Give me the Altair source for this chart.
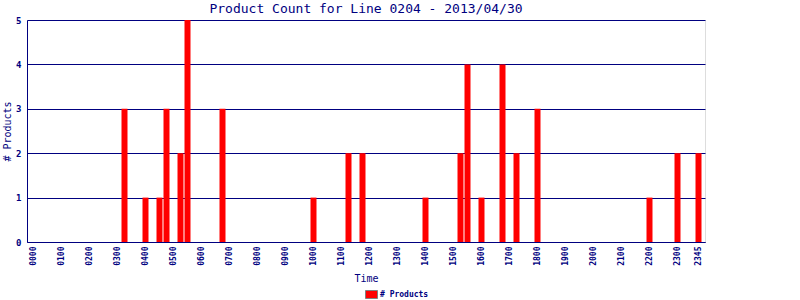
import altair as alt
import pandas as pd

# Non-empty 15-minute slots and their product counts
times = ["0315", "0400", "0430", "0445", "0515", "0530", "0645", "1000",
         "1115", "1145", "1400", "1515", "1530", "1600", "1645", "1715",
         "1800", "2200", "2300", "2345"]
counts = [3, 1, 1, 3, 2, 5, 3, 1, 2, 2, 1, 2, 4, 1, 4, 2, 3, 1, 2, 2]

hours = ["%02d" % h for h in range(24)]
quarters = ["00", "15", "30", "45"]
slots = [h + q for h in hours for q in quarters]
tick_labels = [h + "00" for h in hours] + ["2345"]

series_name = "# Products"
title_text = "Product Count for Line 0204 - 2013/04/30"

df = pd.DataFrame({"time": times, "count": counts, "series": [series_name] * len(times)})

NAVY = "#000080"
FONT = "DejaVu Sans Mono"

chart = alt.Chart(df).mark_bar(color="red").encode(
    x=alt.X("time:O",
            scale=alt.Scale(domain=slots, paddingInner=1/7, paddingOuter=0.5),
            axis=alt.Axis(values=tick_labels, labelAngle=270, ticks=False,
                          labelFont=FONT, labelFontSize=8, labelFontWeight="bold",
                          labelColor=NAVY, labelPadding=4, domainColor=NAVY,
                          title="Time", titleFont=FONT, titleFontSize=10,
                          titleFontWeight="normal", titleColor=NAVY, titlePadding=8)),
    y=alt.Y("count:Q",
            scale=alt.Scale(domain=[0, 5], nice=False),
            axis=alt.Axis(values=[0, 1, 2, 3, 4, 5], ticks=False, grid=True,
                          gridColor=NAVY, gridOpacity=1, domainColor=NAVY,
                          labelFont=FONT, labelFontSize=9, labelFontWeight="bold",
                          labelColor=NAVY, labelPadding=6,
                          title="# Products", titleFont=FONT, titleFontSize=10,
                          titleFontWeight="normal", titleColor=NAVY, titlePadding=3)),
    color=alt.Color("series:N",
                    scale=alt.Scale(domain=[series_name], range=["red"]),
                    legend=alt.Legend(title=None, orient="none", legendX=340, legendY=270,
                                      symbolType="M-1.5,-1H1.5V1H-1.5Z", symbolSize=64,
                                      symbolStrokeColor="gray", symbolStrokeWidth=1,
                                      labelFont=FONT, labelFontSize=8, labelFontWeight="bold",
                                      labelColor=NAVY, labelOffset=4)),
).properties(
    width=678,
    height=222,
    title=alt.TitleParams(title_text, font=FONT, fontSize=13, fontWeight="normal",
                          color=NAVY, anchor="middle", offset=0),
    padding={"left": 27, "top": 20, "right": 95, "bottom": 58},
    autosize="none",
).configure_view(
    stroke=NAVY, strokeWidth=1
).configure(background="white")

chart.save("out.html", embed_options={"renderer": "svg", "actions": False})
